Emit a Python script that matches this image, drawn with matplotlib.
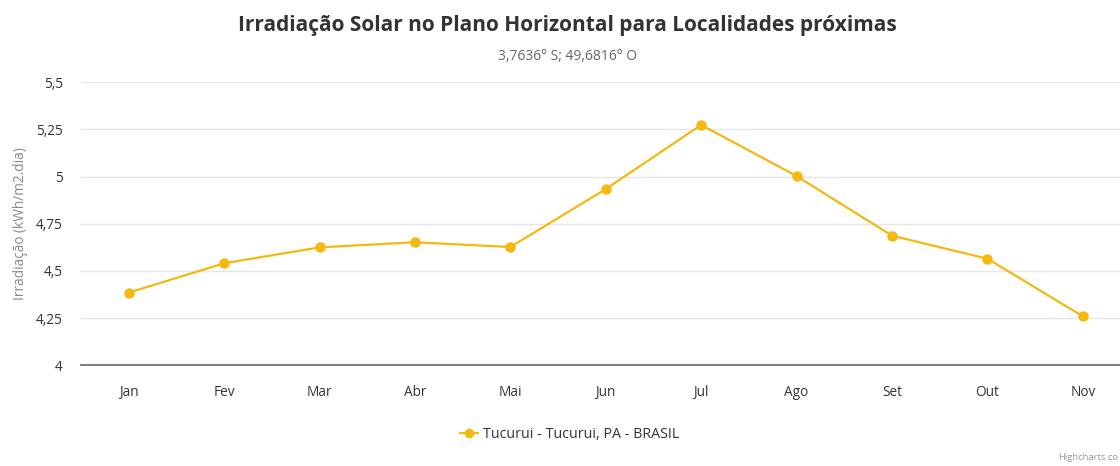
import matplotlib
matplotlib.use("Agg")
import matplotlib.pyplot as plt

plt.rcParams['font.family'] = ['Open Sans', 'DejaVu Sans']

# data
months = ['Jan', 'Fev', 'Mar', 'Abr', 'Mai', 'Jun', 'Jul', 'Ago', 'Set', 'Out', 'Nov']
irradiacao = [4.385, 4.541, 4.625, 4.652, 4.627, 4.934, 5.274, 5.003, 4.687, 4.565, 4.26]
y_ticks = [4, 4.25, 4.5, 4.75, 5, 5.25, 5.5]
y_tick_labels = ['4', '4,25', '4,5', '4,75', '5', '5,25', '5,5']
series_name = 'Tucurui - Tucurui, PA - BRASIL'

line_color = '#f5b80f'

W, H = 1120, 466
fig = plt.figure(figsize=(W / 100, H / 100), dpi=100)
ax = fig.add_axes([81 / W, (H - 365.3) / H, (W - 81) / W, (365.3 - 82.3) / H])

x = list(range(len(months)))
line, = ax.plot(x, irradiacao, color=line_color, linewidth=1.6,
                marker='o', markersize=6.5, label=series_name, clip_on=False)

ax.set_xlim(-0.5, 10.39)
ax.set_ylim(4, 5.5)
ax.set_yticks(y_ticks)
ax.set_yticklabels(y_tick_labels)
ax.set_xticks(x)
ax.set_xticklabels(months)

ax.grid(True, axis='y', color='#e6e6e6', linewidth=1)
ax.set_axisbelow(True)
for side in ['top', 'right', 'left']:
    ax.spines[side].set_visible(False)
ax.spines['bottom'].set_color('#666666')
ax.spines['bottom'].set_linewidth(1.2)
ax.tick_params(axis='both', length=0, labelsize=9.8, labelcolor='#333333')
ax.tick_params(axis='x', pad=14)
ax.tick_params(axis='y', pad=13)

ax.set_ylabel('Irradiação (kWh/m2.dia)', fontsize=9.8, color='#888888', labelpad=6)

fig.text(567 / W, 1 - 25 / H, 'Irradiação Solar no Plano Horizontal para Localidades próximas',
         ha='center', va='center', fontsize=15, fontweight='bold', color='#333333')
fig.text(567 / W, 1 - 57 / H, '3,7636° S; 49,6816° O',
         ha='center', va='center', fontsize=10, color='#666666')

leg = fig.legend(handles=[line], loc='center', bbox_to_anchor=(570 / W, 1 - 435 / H),
                 frameon=False, fontsize=10.3, handlelength=1.2, handletextpad=0.4,
                 markerscale=0.9)
for t in leg.get_texts():
    t.set_color('#333333')

fig.text(1118 / W, 1 - 457 / H, 'Highcharts.co', ha='right', va='center',
         fontsize=6.8, color='#999999')

fig.savefig('out.png', dpi=100)
